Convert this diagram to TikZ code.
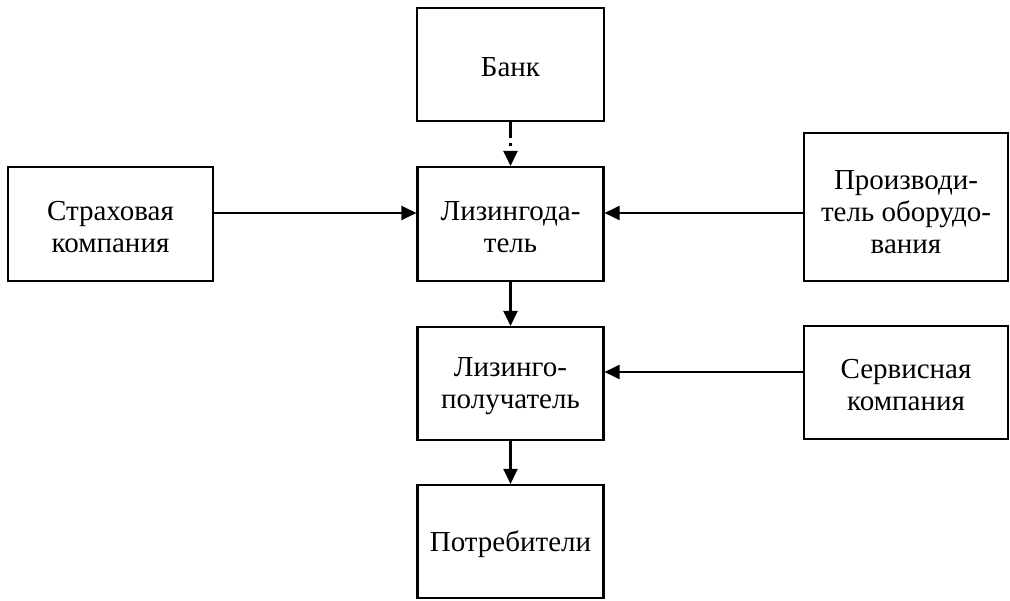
\documentclass[tikz,border=0pt]{standalone}
\usepackage{fontspec}
\setmainfont{Liberation Serif}
\usetikzlibrary{arrows.meta}
\begin{document}
\begin{tikzpicture}[x=1pt,y=-1pt,
  box/.style={draw, line width=2.1pt, inner sep=0pt},
  txt/.style={inner sep=0pt, align=center, yshift=-3pt,
    font=\fontsize{29}{32}\selectfont},
  arr/.style={line width=2.1pt, -{Triangle[length=15pt,width=14pt]}},
  dotarr/.style={arr, dash pattern=on 16pt off 5pt on 2.5pt off 7pt}]
  \useasboundingbox (0,0) rectangle (1010,601);
  % leasing parties: frames
  \node[box, minimum width=187pt, minimum height=113pt] (bank) at (510.5,64.5) {};
  \node[box, minimum width=186pt, minimum height=114pt] (lsr) at (510.5,224) {};
  \node[box, minimum width=205pt, minimum height=114pt] (ins) at (110.5,224) {};
  \node[box, minimum width=204pt, minimum height=148pt] (man) at (906,207) {};
  \node[box, minimum width=186pt, minimum height=113pt] (lse) at (510.5,383.5) {};
  \node[box, minimum width=204pt, minimum height=113pt] (srv) at (906,382.5) {};
  \node[box, minimum width=186pt, minimum height=113pt] (con) at (510.5,541.5) {};
  % leasing parties: names
  \node[txt] (bank-t) at (bank.center) {Банк};
  \node[txt] (lsr-t) at (lsr.center) {Лизингода-\\тель};
  \node[txt] (ins-t) at (ins.center) {Страховая\\компания};
  \node[txt, yshift=-2pt] (man-t) at (man.center) {Производи-\\тель оборудо-\\вания};
  \node[txt] (lse-t) at (lse.center) {Лизинго-\\получатель};
  \node[txt] (srv-t) at (srv.center) {Сервисная\\компания};
  \node[txt] (con-t) at (con.center) {Потребители};
  % rows of the horizontal links
  \coordinate (rowA) at (0,213);
  \coordinate (rowB) at (0,372);
  % links
  \draw[dotarr] (bank.south) -- (lsr.north);
  \draw[arr] (ins.east |- rowA) -- (lsr.west |- rowA);
  \draw[arr] (man.west |- rowA) -- (lsr.east |- rowA);
  \draw[arr] (lsr.south) -- (lse.north);
  \draw[arr] (srv.west |- rowB) -- (lse.east |- rowB);
  \draw[arr] (lse.south) -- (con.north);
\end{tikzpicture}
\end{document}
